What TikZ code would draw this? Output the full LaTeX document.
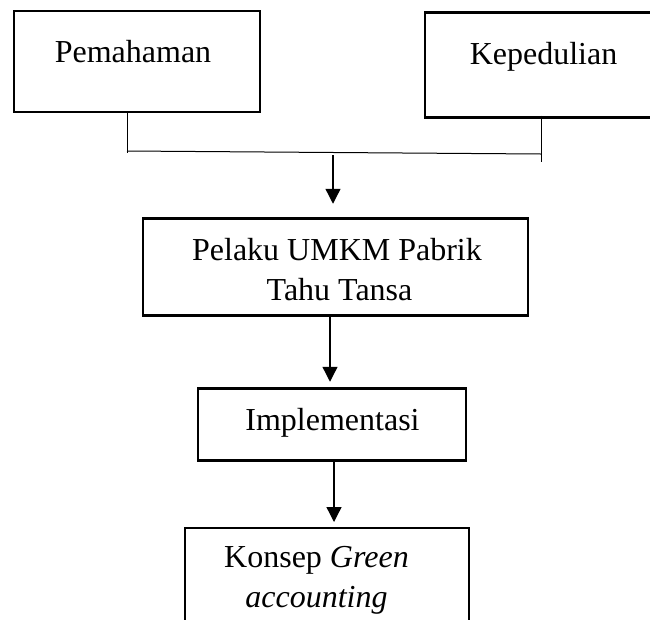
\documentclass[tikz,border=0pt]{standalone}
\usepackage{fontspec}
\setmainfont{Liberation Serif}
\usetikzlibrary{arrows.meta,calc}
\begin{document}
\begin{tikzpicture}[x=1pt,y=-1pt,
  box/.style={draw,line width=2.6pt,rectangle,inner sep=0pt,outer sep=0pt},
  lbl/.style={anchor=base,inner sep=0pt,font=\fontsize{32}{40}\selectfont},
  conn/.style={line width=1pt},
  arr/.style={line width=1.3pt,-{Triangle[width=15pt,length=15pt]}}]
\useasboundingbox (0,0) rectangle (650,619);
\clip (0,0) rectangle (650,619);
% boxes
\node[box,minimum width=246pt,minimum height=101pt] (b1) at (137,61.5) {};
\node[box,minimum width=240pt,minimum height=105pt] (b2) at (545,65) {};
\node[box,minimum width=385pt,minimum height=96.5pt] (b3) at (335.5,267) {};
\node[box,minimum width=268pt,minimum height=71.5pt] (b4) at (332,424.5) {};
\node[box,minimum width=284pt,minimum height=112pt] (b5) at (327,584) {};
% texts
\node[lbl] (t1) at (133,62) {Pemahaman};
\node[lbl] (t2) at (543.5,64) {Kepedulian};
\node[lbl] (t3a) at (337,260) {Pelaku UMKM Pabrik};
\node[lbl] (t3b) at (339.5,300) {Tahu Tansa};
\node[lbl] (t4) at (332.5,430) {Implementasi};
\node[lbl] (t5a) at (316.5,567) {Konsep \textit{Green}};
\node[lbl] (t5b) at (316.5,607) {\textit{accounting}};
% junction connector
\coordinate (j1) at (127,151);
\coordinate (j2) at (541,154);
\draw[conn] (b1.south -| j1) -- ($(j1)+(0,2)$);
\draw[conn] ($(b2.south -| j2)+(0,-2)$) -- ($(j2)+(0,8)$);
\draw[conn] (j1) -- (j2);
% arrows
\coordinate (a1) at (333,155);
\draw[arr] (a1) -- ($(a1 |- b3.north)+(0,-15)$);
\coordinate (x2) at (330,0);
\draw[arr] (b3.south -| x2) -- ($(b4.north -| x2)+(0,-7)$);
\coordinate (x3) at (334,0);
\draw[arr] (b4.south -| x3) -- ($(b5.north -| x3)+(0,-6)$);
\end{tikzpicture}
\end{document}
